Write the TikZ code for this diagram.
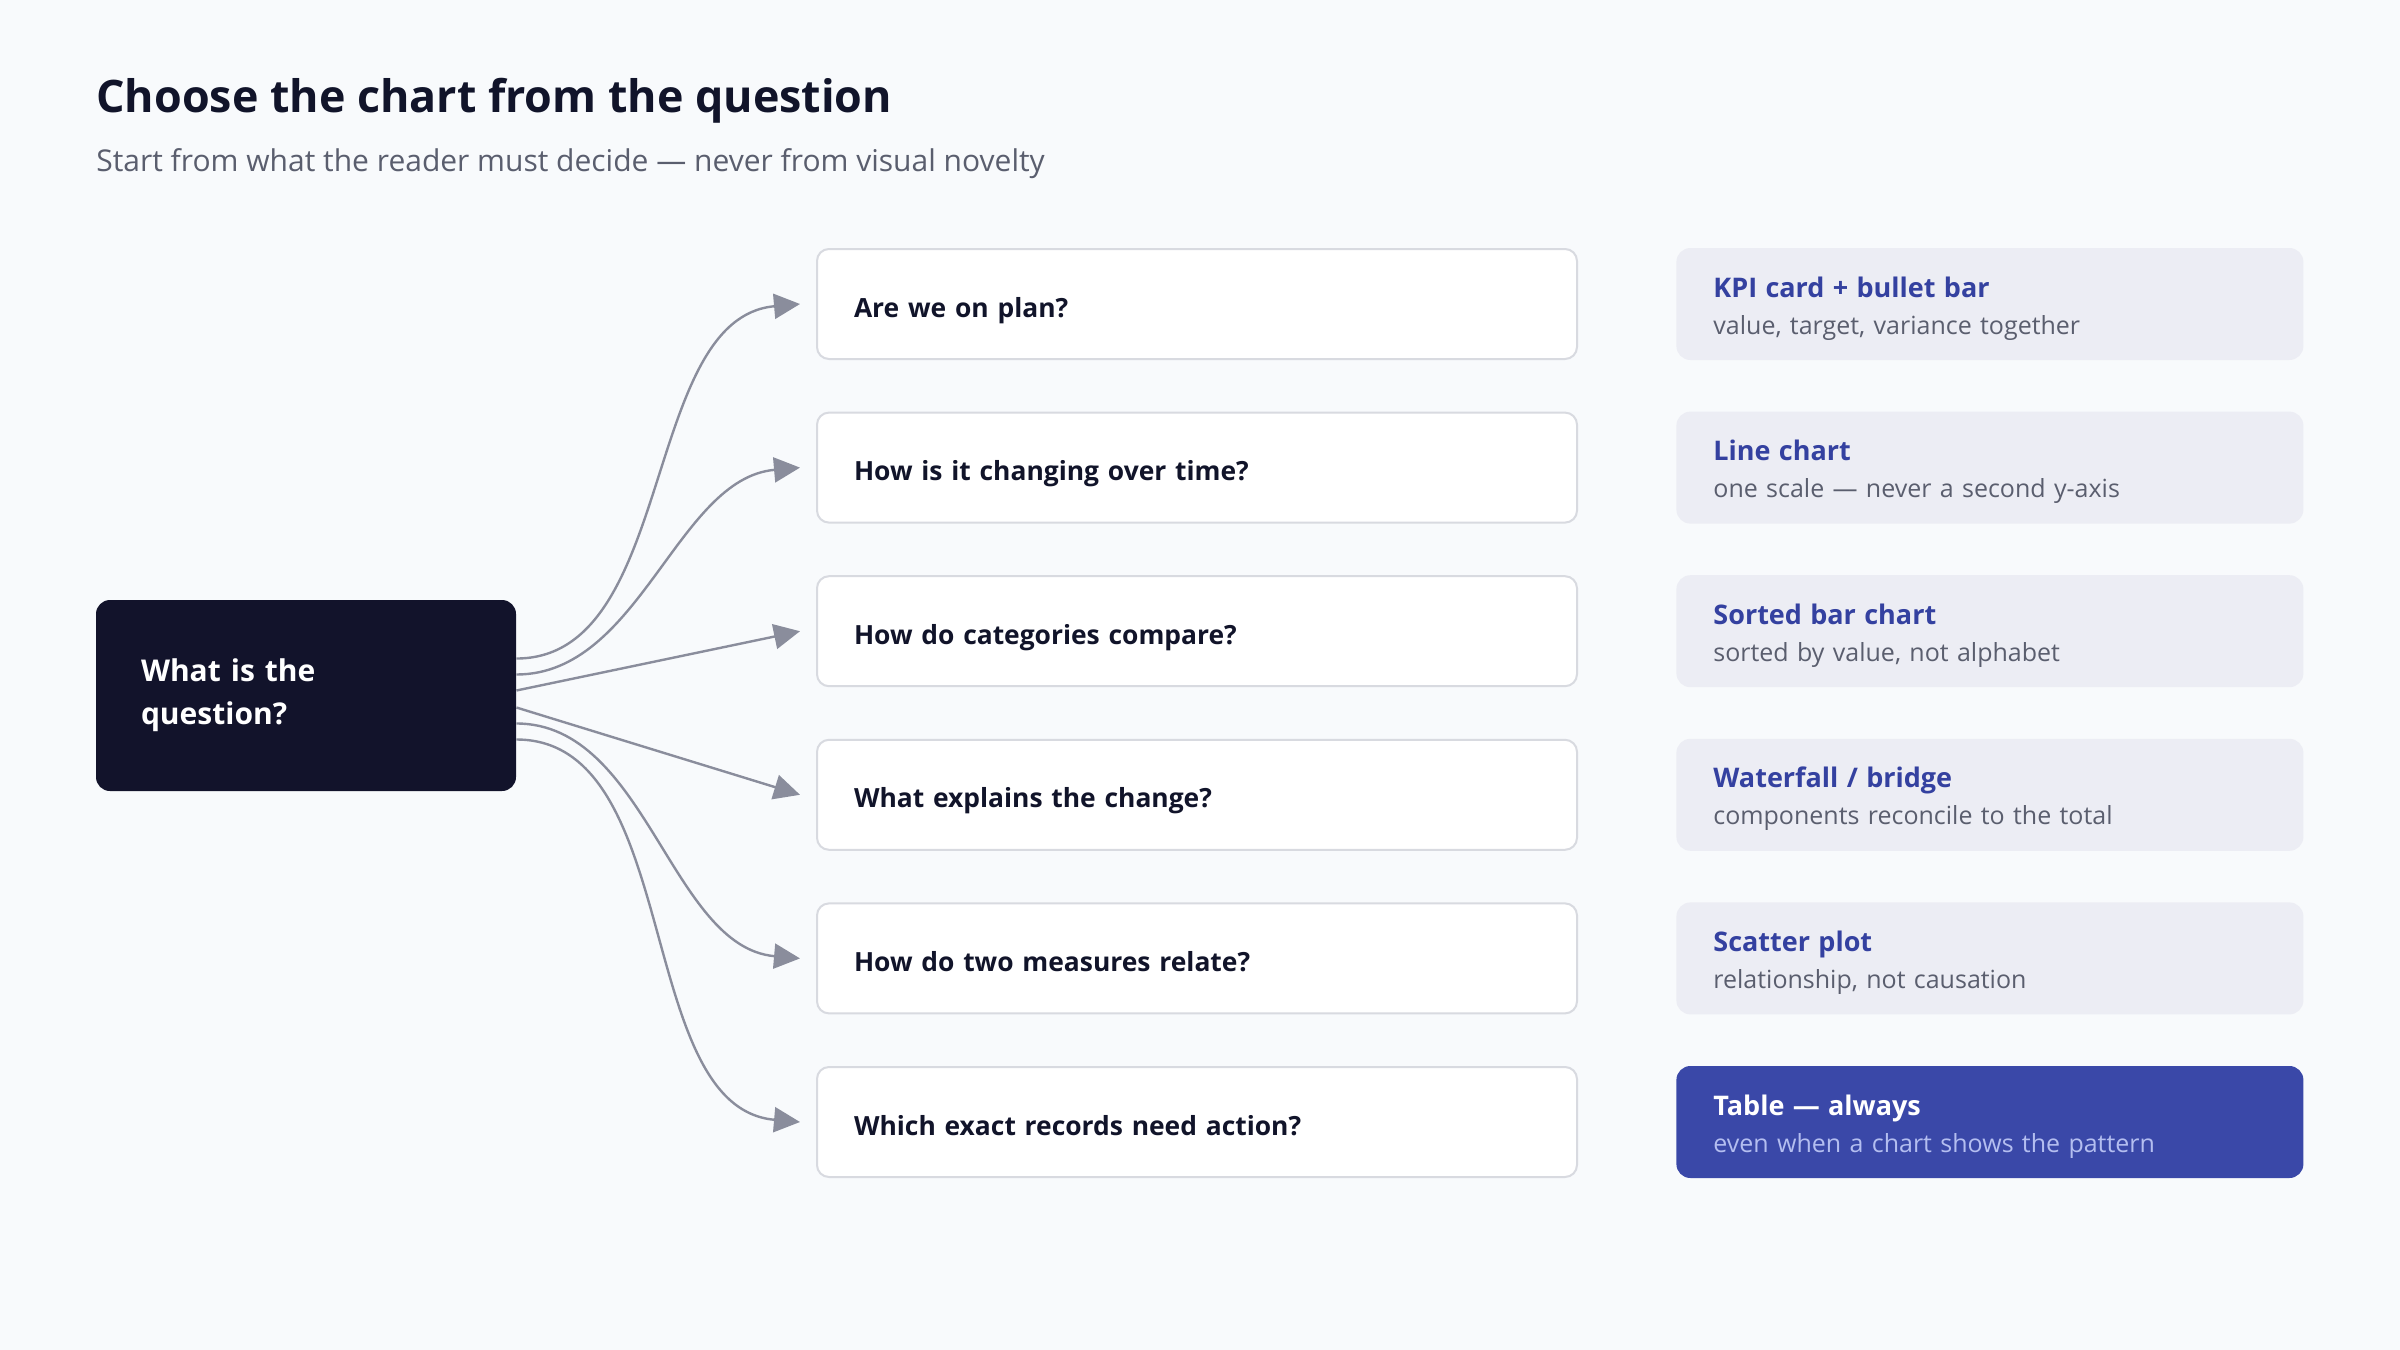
\documentclass[tikz,border=0pt]{standalone}
\usepackage{fontspec}
\setmainfont{Open Sans}
\usetikzlibrary{arrows.meta, positioning, calc}

\definecolor{pagebg}{HTML}{F8FAFC}
\definecolor{ink}{HTML}{11142A}
\definecolor{muted}{HTML}{5A5E6E}
\definecolor{hubfill}{HTML}{12132B}
\definecolor{qborder}{HTML}{D8DAE0}
\definecolor{linkgray}{HTML}{8A8D9C}
\definecolor{chartfill}{HTML}{ECEDF4}
\definecolor{chartblue}{HTML}{3441A0}
\definecolor{tablefill}{HTML}{3A48A8}
\definecolor{tablesub}{HTML}{B4BEF0}

\begin{document}
\begin{tikzpicture}[
    every node/.style={font=\fontsize{13.5pt}{17pt}\selectfont},
    hub/.style={
        rectangle,
        rounded corners=7pt,
        fill=hubfill,
        text=white,
        align=left,
        text width=165pt,
        inner xsep=22.5pt,
        minimum height=95.5pt,
        font=\fontsize{15pt}{21.5pt}\selectfont\bfseries
    },
    question/.style={
        rectangle,
        rounded corners=6pt,
        draw=qborder,
        line width=1pt,
        fill=white,
        text=ink,
        align=left,
        text width=343pt,
        text height=14pt,
        text depth=1pt,
        inner xsep=18.5pt,
        minimum height=55pt,
        font=\fontsize{13.2pt}{17pt}\selectfont\bfseries
    },
    chart/.style={
        rectangle,
        rounded corners=7pt,
        fill=chartfill,
        text=muted,
        align=left,
        text width=276.5pt,
        text height=14.5pt,
        text depth=21.5pt,
        inner xsep=18.5pt,
        minimum height=56pt,
        font=\fontsize{12.5pt}{18.5pt}\selectfont
    },
    tablebox/.style={
        chart,
        fill=tablefill,
        text=tablesub
    },
    link/.style={
        line width=1.2pt,
        draw=linkgray,
        -{Triangle[length=13pt, width=12.5pt]}
    }
]

% Page and bounding box
\fill[pagebg] (0,0) rectangle (1200pt,-675pt);

% Heading
\node[anchor=base west, inner sep=0pt, text=ink,
      font=\fontsize{22.4pt}{27pt}\selectfont\bfseries] (title) at (48pt,-56pt)
    {Choose the chart from the question};
\node[anchor=base west, inner sep=0pt, text=muted,
      font=\fontsize{15pt}{17pt}\selectfont] (subtitle) at (48pt,-85.5pt)
    {Start from what the reader must decide — never from visual novelty};

% Central question
\node[hub] (hub) at (153pt,-347.75pt) {What is the\\question?};

% Question boxes
\node[question, anchor=north west] (plan) at (408pt,-124pt) {Are we on plan?};
\node[question, below=25.8pt of plan] (time) {How is it changing over time?};
\node[question, below=25.8pt of time] (compare) {How do categories compare?};
\node[question, below=25.8pt of compare] (change) {What explains the change?};
\node[question, below=25.8pt of change] (relate) {How do two measures relate?};
\node[question, below=25.8pt of relate] (records) {Which exact records need action?};

% Chart answers
\node[chart, right=49pt of plan] (kpi)
    {{\fontsize{13.5pt}{17pt}\selectfont\bfseries\color{chartblue}KPI card + bullet bar}\\
     value, target, variance together};
\node[chart, right=49pt of time] (line)
    {{\fontsize{13.5pt}{17pt}\selectfont\bfseries\color{chartblue}Line chart}\\
     one scale — never a second y-axis};
\node[chart, right=49pt of compare] (bar)
    {{\fontsize{13.5pt}{17pt}\selectfont\bfseries\color{chartblue}Sorted bar chart}\\
     sorted by value, not alphabet};
\node[chart, right=49pt of change] (waterfall)
    {{\fontsize{13.5pt}{17pt}\selectfont\bfseries\color{chartblue}Waterfall / bridge}\\
     components reconcile to the total};
\node[chart, right=49pt of relate] (scatter)
    {{\fontsize{13.5pt}{17pt}\selectfont\bfseries\color{chartblue}Scatter plot}\\
     relationship, not causation};
\node[tablebox, right=49pt of records] (table)
    {{\fontsize{13.5pt}{17pt}\selectfont\bfseries\color{white}Table — always}\\
     even when a chart shows the pattern};

% Connectors
\draw[link] ([yshift=18.5pt]hub.east) to[out=0, in=185, looseness=0.9] ([xshift=-8pt]plan.west);
\draw[link] ([yshift=10.5pt]hub.east) to[out=0, in=185, looseness=0.9] ([xshift=-8pt]time.west);
\draw[link] ([yshift=2.5pt]hub.east) -- ([xshift=-8pt]compare.west);
\draw[link] ([yshift=-6pt]hub.east) -- ([xshift=-8pt]change.west);
\draw[link] ([yshift=-14pt]hub.east) to[out=0, in=175, looseness=0.9] ([xshift=-8pt]relate.west);
\draw[link] ([yshift=-22pt]hub.east) to[out=0, in=175, looseness=0.9] ([xshift=-8pt]records.west);

\end{tikzpicture}
\end{document}
